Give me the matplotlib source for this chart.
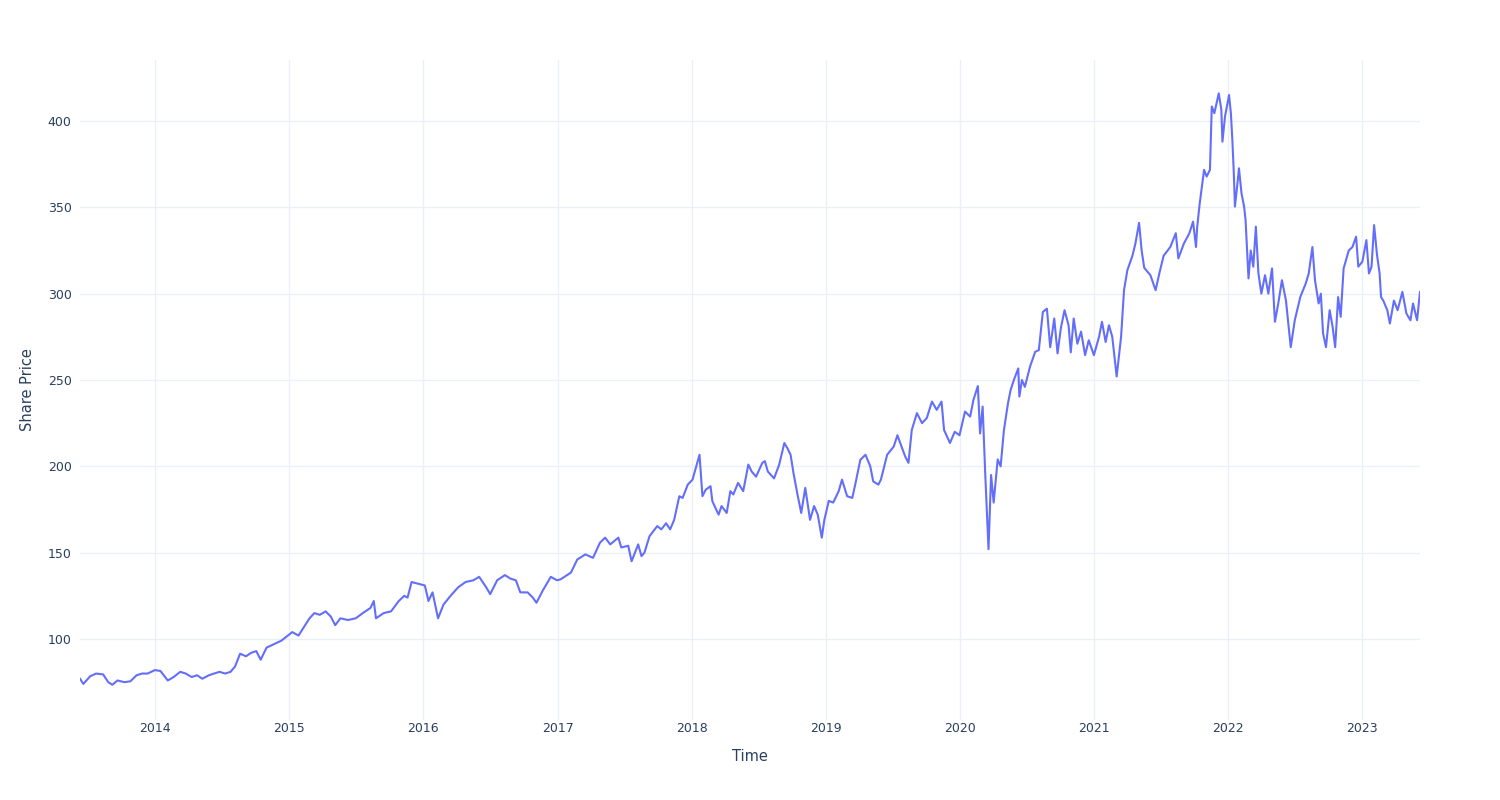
import pandas as pd
import matplotlib.pyplot as plt
import matplotlib.dates as mdates

# Share price (date, price)
dates = [
    "2013-06-10", "2013-06-19", "2013-07-08", "2013-07-24", "2013-08-12", "2013-08-26",
    "2013-09-06", "2013-09-20", "2013-10-09", "2013-10-25", "2013-11-11", "2013-11-26",
    "2013-12-11", "2013-12-31", "2014-01-15", "2014-02-04", "2014-02-20", "2014-03-10",
    "2014-03-25", "2014-04-10", "2014-04-25", "2014-05-09", "2014-05-27", "2014-06-10",
    "2014-06-25", "2014-07-10", "2014-07-25", "2014-08-06", "2014-08-20", "2014-09-05",
    "2014-09-19", "2014-10-03", "2014-10-15", "2014-10-31", "2014-11-20", "2014-12-10",
    "2014-12-22", "2015-01-09", "2015-01-26", "2015-02-10", "2015-02-25", "2015-03-10",
    "2015-03-25", "2015-04-10", "2015-04-24", "2015-05-06", "2015-05-20", "2015-06-10",
    "2015-07-01", "2015-07-20", "2015-08-10", "2015-08-19", "2015-08-25", "2015-09-15",
    "2015-10-05", "2015-10-26", "2015-11-10", "2015-11-19", "2015-11-30", "2015-12-18",
    "2016-01-05", "2016-01-15", "2016-01-26", "2016-02-10", "2016-02-25", "2016-03-15",
    "2016-04-05", "2016-04-25", "2016-05-16", "2016-06-01", "2016-06-20", "2016-07-01",
    "2016-07-20", "2016-08-10", "2016-08-25", "2016-09-09", "2016-09-21", "2016-10-11",
    "2016-10-25", "2016-11-04", "2016-11-21", "2016-12-13", "2016-12-30", "2017-01-09",
    "2017-02-06", "2017-02-23", "2017-03-17", "2017-04-07", "2017-04-26", "2017-05-10",
    "2017-05-24", "2017-06-15", "2017-06-23", "2017-07-12", "2017-07-21", "2017-08-08",
    "2017-08-17", "2017-08-25", "2017-09-08", "2017-09-29", "2017-10-10", "2017-10-23",
    "2017-11-03", "2017-11-14", "2017-11-28", "2017-12-07", "2017-12-21", "2018-01-03",
    "2018-01-22", "2018-01-30", "2018-02-08", "2018-02-21", "2018-02-26", "2018-03-15",
    "2018-03-23", "2018-04-06", "2018-04-16", "2018-04-24", "2018-05-07", "2018-05-21",
    "2018-06-04", "2018-06-13", "2018-06-25", "2018-07-12", "2018-07-19", "2018-07-27",
    "2018-08-13", "2018-08-27", "2018-09-10", "2018-09-18", "2018-09-27", "2018-10-05",
    "2018-10-15", "2018-10-26", "2018-11-06", "2018-11-19", "2018-11-30", "2018-12-10",
    "2018-12-21", "2018-12-28", "2019-01-09", "2019-01-21", "2019-02-05", "2019-02-14",
    "2019-02-28", "2019-03-14", "2019-03-22", "2019-04-05", "2019-04-19", "2019-05-02",
    "2019-05-10", "2019-05-24", "2019-05-31", "2019-06-17", "2019-07-05", "2019-07-15",
    "2019-07-26", "2019-08-05", "2019-08-14", "2019-08-23", "2019-09-06", "2019-09-20",
    "2019-10-03", "2019-10-17", "2019-10-30", "2019-11-12", "2019-11-19", "2019-12-05",
    "2019-12-18", "2019-12-31", "2020-01-15", "2020-01-29", "2020-02-07", "2020-02-19",
    "2020-02-25", "2020-03-03", "2020-03-10", "2020-03-19", "2020-03-26", "2020-04-02",
    "2020-04-13", "2020-04-21", "2020-04-30", "2020-05-11", "2020-05-18", "2020-05-27",
    "2020-06-08", "2020-06-11", "2020-06-18", "2020-06-26", "2020-07-10", "2020-07-24",
    "2020-08-03", "2020-08-14", "2020-08-25", "2020-09-03", "2020-09-14", "2020-09-23",
    "2020-10-02", "2020-10-12", "2020-10-23", "2020-10-29", "2020-11-06", "2020-11-16",
    "2020-11-26", "2020-12-07", "2020-12-17", "2020-12-31", "2021-01-14", "2021-01-22",
    "2021-02-01", "2021-02-10", "2021-02-19", "2021-02-26", "2021-03-03", "2021-03-15",
    "2021-03-23", "2021-04-01", "2021-04-15", "2021-04-23", "2021-05-03", "2021-05-10",
    "2021-05-17", "2021-06-03", "2021-06-17", "2021-06-28", "2021-07-09", "2021-07-27",
    "2021-08-11", "2021-08-18", "2021-09-02", "2021-09-17", "2021-09-27", "2021-10-05",
    "2021-10-08", "2021-10-15", "2021-10-27", "2021-11-03", "2021-11-12", "2021-11-17",
    "2021-11-24", "2021-12-06", "2021-12-13", "2021-12-16", "2021-12-23", "2022-01-03",
    "2022-01-08", "2022-01-12", "2022-01-16", "2022-01-19", "2022-01-26", "2022-01-30",
    "2022-02-06", "2022-02-13", "2022-02-17", "2022-02-25", "2022-03-03", "2022-03-10",
    "2022-03-17", "2022-03-24", "2022-04-01", "2022-04-11", "2022-04-20", "2022-04-30",
    "2022-05-08", "2022-05-17", "2022-05-27", "2022-06-07", "2022-06-20", "2022-07-01",
    "2022-07-16", "2022-07-31", "2022-08-08", "2022-08-18", "2022-08-25", "2022-09-04",
    "2022-09-10", "2022-09-16", "2022-09-24", "2022-10-04", "2022-10-12", "2022-10-19",
    "2022-10-27", "2022-11-03", "2022-11-11", "2022-11-25", "2022-12-05", "2022-12-15",
    "2022-12-21", "2023-01-01", "2023-01-12", "2023-01-19", "2023-01-26", "2023-02-02",
    "2023-02-10", "2023-02-17", "2023-02-21", "2023-02-27", "2023-03-10", "2023-03-17",
    "2023-03-28", "2023-04-07", "2023-04-20", "2023-05-01", "2023-05-12", "2023-05-19",
    "2023-05-30", "2023-06-07",
]
prices = [
    77, 74, 78.5, 80, 79.5, 75,
    73.5, 76, 75, 75.5, 79, 80,
    80, 82, 81.5, 76, 78, 81,
    80, 78, 79, 77, 79, 80,
    81, 80, 81, 84, 91.5, 90,
    92, 93, 88, 95, 97, 99,
    101, 104, 102, 107, 112, 115,
    114, 116, 113, 108, 112, 111,
    112, 115, 118, 122, 112, 115,
    116, 122, 125, 124, 133, 132,
    131, 122, 127, 112, 120, 125,
    130, 133, 134, 136, 130, 126,
    134, 137, 135, 134, 127, 127,
    124, 121, 128, 136, 134, 134.6,
    138.5, 146, 149, 147, 155.8, 158.7,
    154.8, 158.7, 153, 154, 145, 154.8,
    148, 150, 159.6, 165.4, 163.5, 167,
    163.5, 169, 182.7, 181.7, 189.4, 192.3,
    206.7, 182.7, 186.5, 188.5, 179.8, 172,
    177, 173, 185.6, 183.7, 190.4, 185.6,
    201, 197, 194, 202, 203, 197,
    193, 201, 213.5, 210.6, 206.7, 196,
    184.6, 173, 187.5, 169, 177, 172,
    158.7, 169, 180, 179, 185.6, 192.3,
    182.7, 181.7, 189.4, 203.8, 206.7, 200,
    191.3, 189.4, 192.3, 206.7, 211.5, 218,
    211.5, 205.8, 202, 221, 230.8, 225,
    228, 237.5, 232.7, 237.5, 221, 213.5,
    220, 218, 231.7, 228.8, 238.5, 246.5,
    219, 234.6, 196, 152, 195, 179,
    204, 200, 221, 236.5, 244, 250,
    256.7, 240.4, 250, 246, 257.7, 266.3,
    267.3, 289.4, 291.3, 269, 285.6, 265.4,
    280, 290.4, 281.7, 266, 285.6, 271,
    278, 264.4, 273, 264.4, 275, 283.7,
    272, 281.7, 275, 261.5, 252, 275,
    302, 313.5, 322, 329, 341, 325,
    315, 310.6, 302, 312.5, 322, 327,
    335, 320.4, 329, 335, 341.7, 327,
    338, 352, 371.7, 367.8, 371.7, 408.4,
    404.5, 416, 406.5, 388, 402.6, 415,
    404.5, 389, 369.7, 350.4, 364, 372.6,
    358, 350.4, 342.6, 308.8, 325, 315.6,
    338.8, 311.7, 300, 310.7, 300, 314.6,
    283.7, 294.3, 307.8, 296, 269, 284.6,
    298, 306, 311.7, 327, 307.8, 294.3,
    300, 277, 269, 290.4, 280.8, 269,
    298, 286.6, 314.6, 325, 327, 333,
    315.6, 318.5, 331, 311.7, 315.6, 339.7,
    322.3, 311.7, 298, 296, 290.4, 282.7,
    296, 290.4, 301, 288.5, 284.6, 294.3,
    284.6, 301,
]
y_ticks = [100, 150, 200, 250, 300, 350, 400]

df = pd.DataFrame({"date": pd.to_datetime(dates), "price": prices})

text_col = "#2a3f5f"
grid_col = "#ebf0f8"

fig = plt.figure(figsize=(15, 8), dpi=100)
ax = fig.add_axes([80 / 1500, 80 / 800, 1340 / 1500, 660 / 800])

ax.plot(df["date"], df["price"], color="#636efa", linewidth=1.5)

ax.set_xlim(df["date"].min(), df["date"].max())
ax.set_ylim(53.1, 435.3)
ax.set_yticks(y_ticks)
ax.xaxis.set_major_locator(mdates.YearLocator())
ax.xaxis.set_major_formatter(mdates.DateFormatter("%Y"))

ax.grid(True, color=grid_col, linewidth=1)
ax.set_axisbelow(True)
for s in ax.spines.values():
    s.set_visible(False)
ax.tick_params(length=0, labelsize=9, labelcolor=text_col)
ax.tick_params(axis="x", pad=1.5)
ax.tick_params(axis="y", pad=6)

ax.set_xlabel("Time", fontsize=10.5, color=text_col, labelpad=10)
ax.set_ylabel("Share Price", fontsize=10.5, color=text_col, labelpad=9)

fig.savefig("out.png", dpi=100, facecolor="white")
